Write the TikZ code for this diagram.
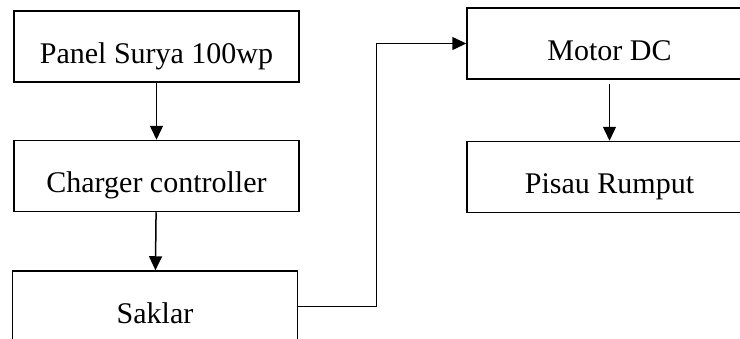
\documentclass[tikz,border=0pt]{standalone}
\usepackage{fontspec}
\setmainfont{Liberation Serif}
\usetikzlibrary{arrows.meta,positioning}
\tikzset{
  blok/.style={draw=black, line width=1.5pt, fill=white, align=center,
               minimum width=285pt, minimum height=71pt, inner sep=0pt,
               text height=33pt, text depth=0pt,
               font=\fontsize{30}{36}\selectfont},
  panah/.style={-{Triangle[length=14pt,width=13pt]}, line width=1.5pt, draw=black},
}

\begin{document}
\begin{tikzpicture}[x=1pt, y=-1pt, node distance=57pt]
  \useasboundingbox (0,0) rectangle (740,338);
  \node[blok] (panel) at (156.5,46.5) {Panel Surya 100wp};
  \node[blok, below=of panel] (charger) {Charger controller};
  \node[blok, below=58pt of charger, xshift=-1.5pt] (saklar) {Saklar};
  \node[blok] (motor) at (609.5,43.5) {Motor DC};
  \node[blok, below=61pt of motor] (pisau) {Pisau Rumput};
  \draw[panah] (panel)--(charger); \draw[panah] (charger)--(saklar);
  \draw[panah] (saklar.east) -- ++(78pt,0) |- (motor.west);
  \draw[panah, shorten <=4pt] (motor)--(pisau);
\end{tikzpicture}
\end{document}
